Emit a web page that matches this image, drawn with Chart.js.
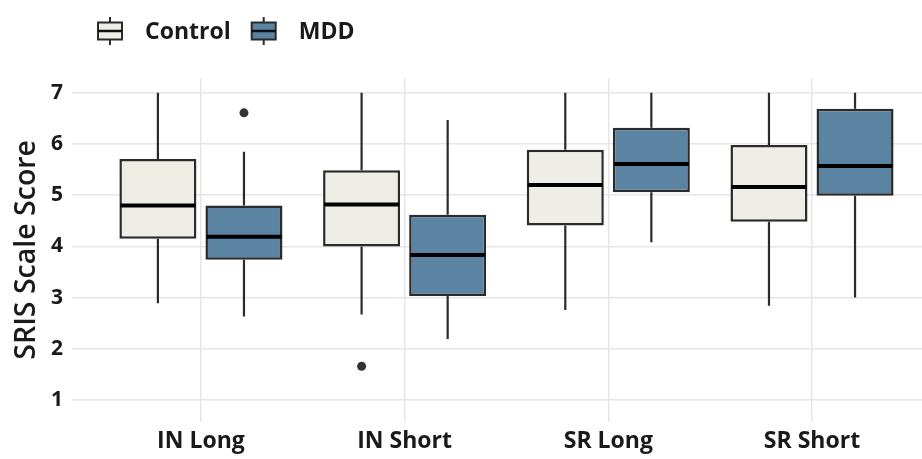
<!DOCTYPE html>
<html>
<head>
<meta charset="utf-8">
<script src="https://cdn.jsdelivr.net/npm/chart.js@4.4.1/dist/chart.umd.min.js"></script>
<style>
  html, body { margin: 0; padding: 0; background: #ffffff; }
  #wrap { width: 922px; height: 459px; position: relative; }
</style>
</head>
<body>
<div id="wrap"><canvas id="c"></canvas></div>
<script>
// ---- data ----
const categories = ['IN Long', 'IN Short', 'SR Long', 'SR Short'];
const yTicks = [1, 2, 3, 4, 5, 6, 7];
const seriesNames = ['Control', 'MDD'];

const controlMin    = [2.89, 2.67, 2.76, 2.84];
const controlQ1     = [4.15, 4.00, 4.41, 4.48];
const controlMedian = [4.80, 4.82, 5.20, 5.16];
const controlQ3     = [5.71, 5.49, 5.89, 5.98];
const controlMax    = [7.00, 7.00, 7.00, 7.00];
const controlOutliers = [[], [1.66], [], []];

const mddMin    = [2.63, 2.19, 4.08, 3.00];
const mddQ1     = [3.74, 3.03, 5.06, 4.99];
const mddMedian = [4.19, 3.83, 5.61, 5.57];
const mddQ3     = [4.80, 4.62, 6.32, 6.69];
const mddMax    = [5.85, 6.47, 7.00, 7.00];
const mddOutliers = [[6.61], [], [], []];

// ---- styles ----
const FONT = "'Open Sans', 'Noto Sans', sans-serif";
const controlFill = '#eeeee6';
const mddFill = '#5b83a2';
const edge = '#2b2b2b';

function boxData(q1, q3) {
  return categories.map((c, i) => ({ x: i + 1, y: [q1[i], q3[i]] }));
}

const datasets = [
  {
    label: seriesNames[0],
    data: boxData(controlQ1, controlQ3),
    backgroundColor: controlFill,
    borderColor: edge,
    borderWidth: 2.5,
    borderSkipped: false,
    stats: { min: controlMin, median: controlMedian, max: controlMax, outliers: controlOutliers }
  },
  {
    label: seriesNames[1],
    data: boxData(mddQ1, mddQ3),
    backgroundColor: mddFill,
    borderColor: edge,
    borderWidth: 2.5,
    borderSkipped: false,
    stats: { min: mddMin, median: mddMedian, max: mddMax, outliers: mddOutliers }
  }
];

const boxPlugin = {
  id: 'boxExtras',
  beforeDatasetsDraw(chart) {
    const ctx = chart.ctx, y = chart.scales.y;
    ctx.save();
    ctx.strokeStyle = edge;
    ctx.lineWidth = 2.2;
    chart.data.datasets.forEach((ds, d) => {
      const meta = chart.getDatasetMeta(d);
      meta.data.forEach((el, i) => {
        const s = ds.stats;
        ctx.beginPath();
        ctx.moveTo(el.x, y.getPixelForValue(s.max[i]));
        ctx.lineTo(el.x, y.getPixelForValue(ds.data[i].y[1]));
        ctx.moveTo(el.x, y.getPixelForValue(ds.data[i].y[0]));
        ctx.lineTo(el.x, y.getPixelForValue(s.min[i]));
        ctx.stroke();
      });
    });
    ctx.restore();
  },
  afterDatasetsDraw(chart) {
    const ctx = chart.ctx, y = chart.scales.y;
    ctx.save();
    chart.data.datasets.forEach((ds, d) => {
      const meta = chart.getDatasetMeta(d);
      meta.data.forEach((el, i) => {
        const s = ds.stats;
        const half = el.width / 2;
        ctx.strokeStyle = '#000000';
        ctx.lineWidth = 4;
        ctx.beginPath();
        const ym = y.getPixelForValue(s.median[i]);
        ctx.moveTo(el.x - half + 1, ym);
        ctx.lineTo(el.x + half - 1, ym);
        ctx.stroke();
        ctx.fillStyle = '#333333';
        s.outliers[i].forEach(v => {
          ctx.beginPath();
          ctx.arc(el.x, y.getPixelForValue(v), 4.5, 0, Math.PI * 2);
          ctx.fill();
        });
      });
    });
    ctx.restore();
  },
  afterDraw(chart) {
    // legend with boxplot glyphs
    const ctx = chart.ctx;
    ctx.save();
    ctx.font = `700 23px ${FONT}`;
    ctx.textBaseline = 'middle';
    let x = 97;
    const cy = 31;
    chart.data.datasets.forEach((ds) => {
      const w = 26;
      ctx.strokeStyle = edge;
      ctx.lineWidth = 2;
      ctx.beginPath();
      ctx.moveTo(x + w / 2, cy - 14);
      ctx.lineTo(x + w / 2, cy + 14);
      ctx.stroke();
      ctx.fillStyle = ds.backgroundColor;
      ctx.fillRect(x + 1, cy - 8.5, w - 2, 17);
      ctx.strokeRect(x + 1, cy - 8.5, w - 2, 17);
      ctx.lineWidth = 2.5;
      ctx.strokeStyle = '#111';
      ctx.beginPath();
      ctx.moveTo(x + 1, cy);
      ctx.lineTo(x + w - 1, cy);
      ctx.stroke();
      ctx.fillStyle = '#1a1a1a';
      const tx = x + w + 22;
      ctx.fillText(ds.label, tx, cy + 1);
      x = tx + ctx.measureText(ds.label).width + 20;
    });
    ctx.restore();
  }
};

new Chart(document.getElementById('c'), {
  type: 'bar',
  data: { datasets },
  plugins: [boxPlugin],
  options: {
    responsive: true,
    maintainAspectRatio: false,
    animation: false,
    layout: { padding: { top: 78, left: 0, right: 0, bottom: 0 } },
    categoryPercentage: 0.845,
    barPercentage: 0.895,
    plugins: {
      legend: { display: false },
      tooltip: { enabled: false }
    },
    scales: {
      x: {
        type: 'linear',
        min: 0.367,
        max: 4.54,
        offset: false,
        afterBuildTicks(scale) { scale.ticks = categories.map((c, i) => ({ value: i + 1 })); },
        afterFit(scale) { scale.height = 37.3; },
        grid: { color: '#e6e6e6', lineWidth: 1.5, drawTicks: false, offset: false },
        border: { display: false },
        ticks: {
          autoSkip: false,
          maxRotation: 0,
          padding: 6,
          color: '#1a1a1a',
          font: { family: FONT, size: 23, weight: '700' },
          callback(v) { return categories[Math.round(v) - 1]; }
        }
      },
      y: {
        min: 0.576,
        max: 7.29,
        afterBuildTicks(scale) { scale.ticks = yTicks.map(v => ({ value: v })); },
        afterFit(scale) { scale.width = 72; },
        grid: { color: '#e6e6e6', lineWidth: 1.5, drawTicks: false },
        border: { display: false },
        ticks: {
          padding: 9,
          color: '#1a1a1a',
          font: { family: FONT, size: 21, weight: '700' }
        },
        title: {
          display: true,
          text: 'SRIS Scale Score',
          color: '#1a1a1a',
          padding: { top: 10, bottom: 0 },
          font: { family: FONT, size: 28.5, weight: '600' }
        }
      }
    }
  }
});
</script>
</body>
</html>
